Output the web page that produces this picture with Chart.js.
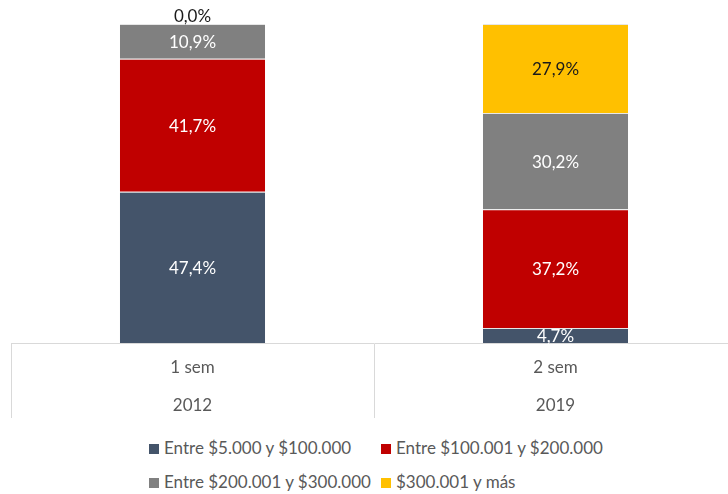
<!DOCTYPE html>
<html>
<head>
<meta charset="utf-8">
<script src="https://cdn.jsdelivr.net/npm/chart.js@4.4.1/dist/chart.umd.min.js"></script>
<style>
  html, body { margin: 0; padding: 0; background: #fff; overflow: hidden; width: 728px; height: 494px; }
  #wrap { position: relative; width: 728px; height: 494px; overflow: hidden; }
  canvas { position: absolute; left: 0; top: 0; }
  .lg { position: absolute; font-family: Lato, "Open Sans", sans-serif; font-size: 17px; color: #595959; white-space: nowrap; line-height: 20px; }
  .lg span.sw { display: inline-block; width: 10px; height: 10px; margin-right: 5px; vertical-align: 0px; }
</style>
</head>
<body>
<div id="wrap">
  <canvas id="c" width="750" height="425"></canvas>
  <div id="legend"></div>
</div>
<script>
// ---- data ----
const periods = ["1 sem", "2 sem"];
const years = ["2012", "2019"];
const seriesNames = ["Entre $5.000 y $100.000", "Entre $100.001 y $200.000", "Entre $200.001 y $300.000", "$300.001 y más"];
const tramo1 = [47.4, 4.7];
const tramo2 = [41.7, 37.2];
const tramo3 = [10.9, 30.2];
const tramo4 = [0.0, 27.9];

const colors = ["#44546A", "#C00000", "#808080", "#FFC000"];
const labelColors = ["#ffffff", "#ffffff", "#ffffff", "#1a1a1a"];
const FONT = 'Lato, "Open Sans", sans-serif';

const seriesValues = [tramo1, tramo2, tramo3, tramo4];

const datasets = seriesValues.map((vals, i) => ({
  label: seriesNames[i],
  data: vals,
  backgroundColor: colors[i],
  borderColor: "#e6e6e6",
  borderWidth: { top: 1, bottom: 0, left: 0, right: 0 },
  borderSkipped: false,
  categoryPercentage: 0.4,
  barPercentage: 1.0
}));

const fmt = v => v.toFixed(1).replace(".", ",") + "%";

const dataLabels = {
  id: "dataLabels",
  afterDatasetsDraw(chart) {
    const ctx = chart.ctx;
    ctx.save();
    ctx.font = "17px " + FONT;
    ctx.textAlign = "center";
    ctx.textBaseline = "middle";
    chart.data.datasets.forEach((ds, di) => {
      const meta = chart.getDatasetMeta(di);
      meta.data.forEach((el, i) => {
        const v = ds.data[i];
        let y = (el.y + el.base) / 2;
        let color = labelColors[di];
        if (v === 0) { y = el.y - 8; color = "#1a1a1a"; }
        ctx.fillStyle = color;
        ctx.fillText(fmt(v), el.x, y + 1);
      });
    });
    ctx.restore();
  }
};

const catLabels = {
  id: "catLabels",
  afterDraw(chart) {
    const ctx = chart.ctx;
    const xs = chart.scales.x;
    const bottom = chart.chartArea.bottom;
    ctx.save();
    ctx.font = "17px " + FONT;
    ctx.fillStyle = "#595959";
    ctx.textAlign = "center";
    ctx.textBaseline = "middle";
    periods.forEach((p, i) => {
      const x = xs.getPixelForValue(i);
      ctx.fillText(p, x, bottom + 25);
      ctx.fillText(years[i], x, bottom + 63);
    });
    ctx.restore();
  }
};

new Chart(document.getElementById("c"), {
  type: "bar",
  data: { labels: periods, datasets },
  options: {
    responsive: false,
    animation: false,
    devicePixelRatio: 1,
    layout: { padding: { left: 11, right: 13, top: 24, bottom: 7 } },
    plugins: { legend: { display: false }, tooltip: { enabled: false } },
    scales: {
      x: {
        stacked: true,
        offset: true,
        grid: { display: true, offset: true, drawOnChartArea: false, drawTicks: true, tickLength: 75, color: "#d9d9d9", lineWidth: 1 },
        border: { display: true, color: "#d9d9d9", width: 1 },
        ticks: { display: false }
      },
      y: {
        stacked: true,
        display: false,
        min: 0,
        max: 100
      }
    }
  },
  plugins: [dataLabels, catLabels]
});

// HTML legend (two rows, two columns)
const legendPos = [[149, 438], [381, 438], [149, 472], [381, 472]];
const lg = document.getElementById("legend");
seriesNames.forEach((n, i) => {
  const d = document.createElement("div");
  d.className = "lg";
  d.style.left = legendPos[i][0] + "px";
  d.style.top = legendPos[i][1] + "px";
  d.innerHTML = '<span class="sw" style="background:' + colors[i] + '"></span>' + n;
  lg.appendChild(d);
});
</script>
</body>
</html>
